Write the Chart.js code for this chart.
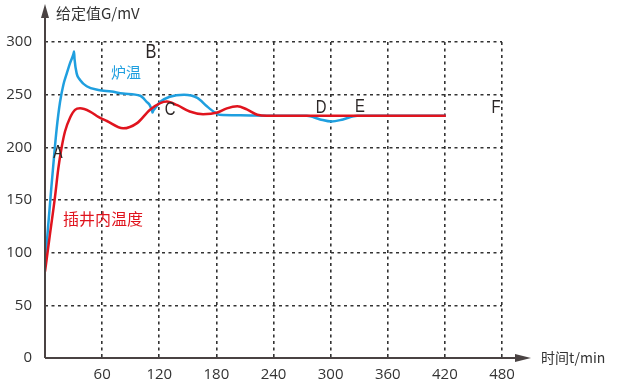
<!DOCTYPE html>
<html>
<head>
<meta charset="utf-8">
<script src="https://cdn.jsdelivr.net/npm/chart.js@4"></script>
<style>
  body { margin: 0; background: #fff; }
</style>
</head>
<body>
<canvas id="myChart" width="621" height="390"></canvas>
<script>
// furnace temperature (blue) and in-well temperature (red)
let blueX = [0, 3.2, 6.3, 8.7, 12.3, 15.8, 19.2, 22.8, 26.3, 30, 30.5, 31, 33.3, 36.8, 43.8, 56, 70, 82, 100, 107, 110, 112.5, 113, 113.5, 115.6, 120.8, 131, 146, 160, 170, 178.6, 183, 205, 240, 275, 289, 301, 313, 328, 421];
let blueY = [88, 124, 158, 183, 218, 243, 259, 270, 280, 289, 291, 284, 270, 264, 258, 254.5, 253, 251, 249, 243, 240, 234.5, 233, 234.5, 237, 243, 248, 250, 247, 239, 233, 231, 230.5, 230, 230, 226.5, 224.5, 226.5, 230, 230];
let redX = [0, 5.3, 10.5, 14, 17.5, 21, 26.3, 31.5, 36.8, 47.3, 56, 65, 82, 96.7, 110, 121, 128, 139, 152, 166, 181, 191, 202, 212, 223, 233, 421];
let redY = [82, 118, 153, 180, 200, 215, 228, 235.5, 237, 234, 229, 225, 218, 223, 235.5, 242, 243.5, 240, 234, 231.5, 233, 237, 239, 236, 231, 230, 230];

let xTicks = [60, 120, 180, 240, 300, 360, 420, 480];
let yTicks = [0, 50, 100, 150, 200, 250, 300];

let letters = [
  ["A", 58, 153, 18],
  ["B", 151, 52, 21],
  ["C", 170, 110, 19],
  ["D", 321, 108, 19],
  ["E", 360, 107, 19],
  ["F", 496, 108, 19],
];

function toPoints(xs, ys) {
  return xs.map((x, i) => ({ x: x, y: ys[i] }));
}

let axisColor = "#4a4343";
let textColor = "#333";

let extras = {
  id: "extras",
  afterDraw(chart) {
    let ctx = chart.ctx;
    let x0 = chart.scales.x.getPixelForValue(0);
    let y0 = chart.scales.y.getPixelForValue(0);
    ctx.save();
    // axes with arrows
    ctx.strokeStyle = axisColor;
    ctx.fillStyle = axisColor;
    ctx.lineWidth = 2;
    ctx.beginPath();
    ctx.moveTo(x0, y0);
    ctx.lineTo(x0, 14);
    ctx.moveTo(x0, y0);
    ctx.lineTo(520, y0);
    ctx.stroke();
    ctx.beginPath();
    ctx.moveTo(x0, 4);
    ctx.lineTo(x0 - 4, 18);
    ctx.lineTo(x0 + 4, 18);
    ctx.closePath();
    ctx.fill();
    ctx.beginPath();
    ctx.moveTo(531, y0);
    ctx.lineTo(515, y0 - 4);
    ctx.lineTo(515, y0 + 4);
    ctx.closePath();
    ctx.fill();

    // axis titles
    ctx.fillStyle = textColor;
    ctx.textBaseline = "middle";
    ctx.textAlign = "left";
    ctx.font = "15px 'Noto Sans CJK SC'";
    ctx.fillText("给定值G/mV", 56, 13);
    ctx.font = "14px 'Noto Sans CJK SC'";
    ctx.fillText("时间t/min", 541, 358);

    // curve names
    ctx.textAlign = "center";
    ctx.font = "15px 'Noto Sans CJK SC'";
    ctx.fillStyle = "#1f9fdf";
    ctx.fillText("炉温", 126, 72);
    ctx.font = "16px 'Noto Sans CJK SC'";
    ctx.fillStyle = "#e0141e";
    ctx.fillText("插井内温度", 103, 219);

    // point letters, squeezed to look condensed
    ctx.fillStyle = "#2b2626";
    letters.forEach(l => {
      ctx.save();
      ctx.translate(l[1], l[2]);
      ctx.scale(0.78, 1);
      ctx.font = l[3] + "px 'Liberation Sans'";
      ctx.fillText(l[0], 0, 0);
      ctx.restore();
    });
    ctx.restore();
  },
};

let myChart = document.getElementById("myChart").getContext("2d");

let chartData = {
  type: "line",
  data: {
    datasets: [
      {
        label: "插井内温度",
        data: toPoints(redX, redY),
        borderColor: "#e0141e",
        borderWidth: 2.5,
        pointRadius: 0,
        cubicInterpolationMode: "monotone",
      },
      {
        label: "炉温",
        data: toPoints(blueX, blueY),
        borderColor: "#1f9fdf",
        borderWidth: 2.5,
        pointRadius: 0,
        cubicInterpolationMode: "monotone",
      },
    ],
  },
  options: {
    responsive: false,
    animation: false,
    layout: { padding: { top: 42, right: 119, left: 0, bottom: 0 } },
    plugins: { legend: { display: false }, tooltip: { enabled: false } },
    scales: {
      x: {
        type: "linear",
        min: 0,
        max: 480,
        afterBuildTicks: s => { s.ticks = [0].concat(xTicks).map(v => ({ value: v })); },
        afterFit: s => { s.height = 32; },
        ticks: {
          callback: v => (v === 0 ? "" : v),
          color: textColor,
          font: { family: "'Open Sans'", size: 15 },
          padding: 8,
          maxRotation: 0,
          autoSkip: false,
        },
        grid: { color: "#333", lineWidth: 1.6, drawTicks: false },
        border: { display: false, dash: [3, 3.5] },
      },
      y: {
        min: 0,
        max: 300,
        afterBuildTicks: s => { s.ticks = yTicks.map(v => ({ value: v })); },
        afterFit: s => { s.width = 45; },
        ticks: {
          color: textColor,
          font: { family: "'Open Sans'", size: 15 },
          padding: 13,
        },
        grid: { color: "#333", lineWidth: 1.6, drawTicks: false },
        border: { display: false, dash: [3, 3.5] },
      },
    },
  },
  plugins: [extras],
};

let tempChart = new Chart(myChart, chartData);
</script>
</body>
</html>
